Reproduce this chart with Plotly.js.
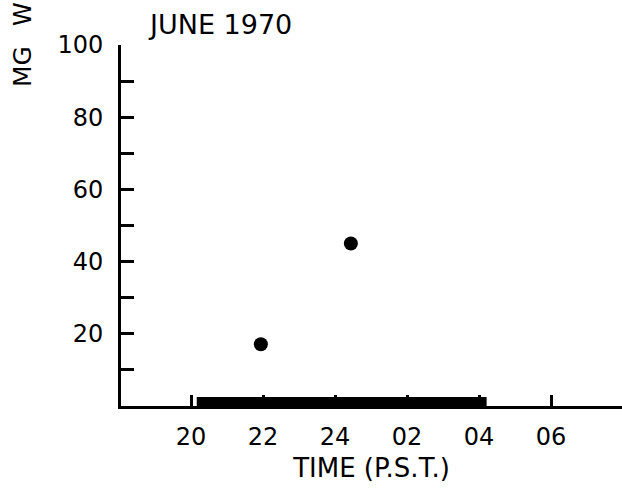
<!DOCTYPE html>
<html>
<head>
<meta charset="utf-8">
<script src="https://cdn.plot.ly/plotly-3.0.1.min.js"></script>
<style>html,body{margin:0;padding:0;background:#fff;}#chart{width:622px;height:497px;}</style>
</head>
<body>
<div id="chart"></div>
<script>
// Data
const timeHours = [21.94, 24.44];          // 22 h and ~00:30 (24+)
const mgValues = [17.1, 45.0];
const barStart = 20.16;                      // dark bar along the axis
const barEnd = 28.21;                        // ~04:10
const barHeight = 1.25;                      // centre of thick bar (units)
const xTickVals = [20, 22, 24, 26, 28, 30];
const xTickText = ['20', '22', '24', '02', '04', '06'];
const yTickVals = [10, 20, 30, 40, 50, 60, 70, 80, 90, 100];
const yTickText = ['', '20', '', '40', '', '60', '', '80', '', '100'];

const font = 'DejaVu Sans, sans-serif';

const traces = [
  {
    type: 'scatter', mode: 'lines',
    x: [barStart, barEnd], y: [barHeight, barHeight],
    line: {color: '#000', width: 9},
    hoverinfo: 'skip', showlegend: false, cliponaxis: false
  },
  {
    type: 'scatter', mode: 'markers',
    x: timeHours, y: mgValues,
    marker: {color: '#000', size: 14},
    showlegend: false, cliponaxis: false
  }
];

const layout = {
  width: 622, height: 497,
  margin: {l: 121, r: 0, t: 45, b: 91},
  paper_bgcolor: '#fff', plot_bgcolor: '#fff',
  font: {family: font, color: '#000', size: 24},
  title: {
    text: 'JUNE 1970', font: {family: font, size: 27, color: '#000'},
    xref: 'container', yref: 'container',
    x: 150/622, xanchor: 'left', y: 1 - 24.5/497, yanchor: 'middle'
  },
  xaxis: {
    range: [18.056, 31.97],
    showgrid: false, zeroline: false,
    showline: true, linecolor: '#000', linewidth: 3,
    ticks: 'inside', ticklen: 11, tickwidth: 3, tickcolor: '#000',
    tickvals: xTickVals, ticktext: xTickText,
    tickfont: {family: font, size: 24, color: '#000'},
    ticklabelstandoff: 7,
    title: {text: 'TIME (P.S.T.)', font: {family: font, size: 26, color: '#000'}, standoff: 10}
  },
  yaxis: {
    range: [0, 100],
    showgrid: false, zeroline: false,
    showline: true, linecolor: '#000', linewidth: 3,
    ticks: 'inside', ticklen: 13, tickwidth: 3, tickcolor: '#000',
    tickvals: yTickVals, ticktext: yTickText,
    tickfont: {family: font, size: 24, color: '#000'},
    ticklabelstandoff: 10
  },
  annotations: [
    {text: 'MG', textangle: -90, xref: 'paper', yref: 'paper',
     x: (23 - 121)/501, y: (406 - 67)/361, xanchor: 'center', yanchor: 'middle',
     showarrow: false, font: {family: font, size: 25, color: '#000'}},
    {text: 'W', textangle: -90, xref: 'paper', yref: 'paper',
     x: (23 - 121)/501, y: (406 - 14)/361, xanchor: 'center', yanchor: 'middle',
     showarrow: false, font: {family: font, size: 24, color: '#000'}}
  ]
};

Plotly.newPlot('chart', traces, layout, {displayModeBar: false, staticPlot: true});
</script>
</body>
</html>
